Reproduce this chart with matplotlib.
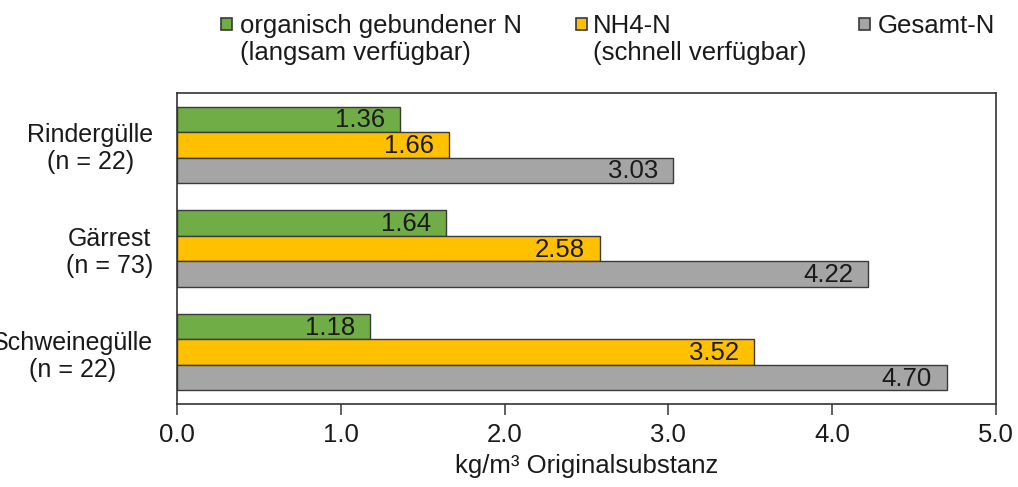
import matplotlib
matplotlib.use("Agg")
import matplotlib.pyplot as plt
from matplotlib.patches import Rectangle
import numpy as np

plt.rcParams['font.family'] = ['Liberation Sans', 'DejaVu Sans']

categories = ["Rindergülle\n(n = 22)", "Gärrest\n(n = 73)", "Schweinegülle\n(n = 22)"]
series_line1 = ["organisch gebundener N", "NH4-N", "Gesamt-N"]
series_line2 = ["(langsam verfügbar)", "(schnell verfügbar)", ""]
org_n = [1.36, 1.64, 1.18]
nh4_n = [1.66, 2.58, 3.52]
ges_n = [3.03, 4.22, 4.70]
xticks = [0.0, 1.0, 2.0, 3.0, 4.0, 5.0]
xlabel = "kg/m³ Originalsubstanz"

colors = ["#70AD47", "#FFC000", "#A5A5A5"]
edge = "#3a3a3a"
fs = 18.5
tcol = "#1a1a1a"

fig = plt.figure(figsize=(10.18, 4.87), dpi=100)
ax = fig.add_axes([177/1018, 1 - 404/487, (996 - 177)/1018, (404 - 93)/487])

y = np.arange(len(categories))
h = 0.245
offsets = [-h, 0, h]
for vals, col, off in zip([org_n, nh4_n, ges_n], colors, offsets):
    bars = ax.barh(y + off, vals, height=h, color=col, edgecolor=edge, linewidth=1.0)
    for b, v in zip(bars, vals):
        ax.text(v - 0.09, b.get_y() + b.get_height() / 2 + 0.01, f"{v:.2f}",
                ha="right", va="center", fontsize=fs, color=tcol)

ax.set_xlim(0, 5)
ax.set_ylim(2.5, -0.5)
ax.set_xticks(xticks)
ax.set_xticklabels([f"{t:.1f}" for t in xticks], fontsize=fs, color=tcol)
ax.set_yticks(y)
ax.set_yticklabels(categories, fontsize=18, multialignment="center", color=tcol,
                   linespacing=1.15)
ax.tick_params(axis="y", length=0, pad=17)
ax.tick_params(axis="x", direction="out", length=8, width=1.2, pad=6, color="#444444")
ax.set_xlabel(xlabel, fontsize=fs, labelpad=5, color=tcol)
for s in ax.spines.values():
    s.set_color("#333333")
    s.set_linewidth(1.2)

# legend (manual)
mark_x = [221, 576, 859]
text_x = [240, 593, 878]
for mx, tx, col, l1, l2 in zip(mark_x, text_x, colors, series_line1, series_line2):
    fig.patches.append(Rectangle((mx / 1018, 1 - 30 / 487), 11 / 1018, 12 / 487,
                                 transform=fig.transFigure, facecolor=col,
                                 edgecolor=edge, linewidth=1.2))
    fig.text(tx / 1018, 1 - 33 / 487, l1, ha="left", va="baseline",
             fontsize=fs, color=tcol, transform=fig.transFigure)
    if l2:
        fig.text(tx / 1018, 1 - 60 / 487, l2, ha="left", va="baseline",
                 fontsize=fs, color=tcol, transform=fig.transFigure)

fig.savefig("out.png", dpi=100)
